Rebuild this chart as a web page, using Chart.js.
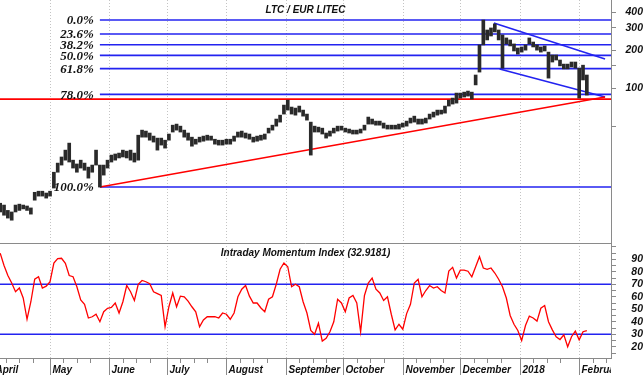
<!DOCTYPE html>
<html>
<head>
<meta charset="utf-8">
<script src="https://cdn.jsdelivr.net/npm/chart.js@4.4.1/dist/chart.umd.min.js"></script>
<style>
  html, body { margin: 0; padding: 0; background: #fff; }
  #wrap { width: 643px; height: 376px; }
</style>
</head>
<body>
<div id="wrap"><canvas id="ltcChart" width="643" height="376"></canvas></div>
<script>
// x values are day numbers counted from 1 April 2017 (day 0)
const monthNames = ["April", "May", "June", "July", "August", "September", "October", "November", "December", "2018", "February"];
const monthDays = [0, 30, 61, 91, 122, 153, 183, 214, 244, 275, 306];
const firstDay = 4, dayStep = 2;   // one bar every two days
const dayMin = 3.9, dayMax = 322.6;

// LTC/EUR bars, high and low
const highs = [12.2,11.8,10.7,10.4,11.8,12.0,11.8,11.6,11.2,14.9,
  15.2,15.2,14.7,15.2,21.5,25.4,28.4,32.2,36.6,26.8,
  25.0,26.8,25.4,23.6,24.5,32.2,24.5,24.5,26.8,29.4,
  30.0,30.5,32.2,31.6,32.2,30.5,42.3,46.4,45.6,44.0,
  41.6,40.1,40.1,38.6,43.2,50.8,51.8,49.9,46.4,44.0,
  40.8,39.3,40.8,41.6,42.3,41.6,39.3,38.6,38.6,39.3,
  39.3,41.6,44.8,45.6,44.0,43.2,40.8,41.6,42.3,43.2,
  48.1,50.8,56.8,61.0,73.3,80.3,70.7,69.4,72.0,66.9,
  62.2,53.7,49.9,49.0,48.1,44.0,45.6,48.1,49.9,49.9,
  48.1,47.3,46.4,46.4,47.3,50.8,58.9,56.8,54.7,54.7,
  52.8,50.8,50.8,50.8,51.8,52.8,54.7,57.8,59.9,56.8,
  56.8,57.8,62.2,64.5,66.9,66.9,72.0,80.3,83.3,91.3,
  91.3,92.9,94.7,92.9,127,220,347,289,300,323,
  289,264,250,241,224,208,212,220,250,232,
  220,212,216,193,183,183,167,155,155,161,
  161,144,152,127];
const lows = [10.4,9.8,9.3,8.95,10.4,10.7,11.0,10.7,10.0,12.9,
  13.9,13.9,13.4,13.9,16.1,21.5,24.5,26.8,25.9,23.2,
  21.5,23.2,22.3,19.3,21.5,24.5,16.4,20.4,23.2,25.9,
  26.8,27.9,28.4,27.9,26.8,25.9,26.8,40.8,40.8,38.6,
  37.3,32.2,35.3,33.4,38.6,44.8,46.4,44.8,40.8,38.6,
  34.6,35.9,37.3,37.9,38.6,38.6,35.9,35.3,35.3,35.9,
  35.9,37.9,40.8,40.8,40.1,39.3,37.3,37.9,38.6,39.3,
  44.0,46.4,49.9,53.7,62.2,66.9,62.2,61.0,64.5,59.9,
  55.7,29.4,44.8,44.8,43.2,40.1,41.6,44.0,45.6,46.4,
  44.8,44.0,43.2,43.2,44.0,46.4,51.8,51.8,50.8,50.8,
  48.1,47.3,47.3,47.3,47.3,49.0,49.9,52.8,53.7,51.8,
  51.8,52.8,56.8,58.9,61.0,62.2,63.3,72.0,74.7,76.0,
  83.3,84.9,86.4,81.8,106,134,220,241,259,279,
  241,144,224,216,197,186,193,200,224,212,
  200,193,197,120,161,167,150,142,142,147,
  144,83.3,116,88];

// Intraday Momentum Index
const imi = [94.8,85,77,71,64,67,59,42,56,74,
  76,67,68.5,72,87,90.5,90.8,86.8,77,76,
  68,57.5,54,43,44,46,40,48,50.8,51.5,
  55,47,56,69,64,57,70,73,72,70.5,
  64,62.5,61,36,52,63,52,60.5,60,56.5,
  52,48,36,41.5,44,44,44,43,47,46,
  42,47,60,66,69,60.5,55,55,51,48,
  58,60,70,82,87,84,68,70,68,56,
  47,33,30,38.8,24.5,26.8,32,40,58,55,
  48,59,61,55,32,61,71,75,66,63,
  57,60,46,33.5,38,34,46.5,54,71,74,
  60,65,69,67,68,65,63,80.5,83.5,75,
  81.3,81.3,80.4,76,84,92,83,82,83,79,
  74,68,59,45,38,33,25,37,44.5,43,
  40.5,50.8,53,40,33.5,28,25.8,29.5,20,28,
  32.5,25.5,32,32.9181];

const priceTicks = [400, 300, 200, 150, 100, 50];
const priceLabels = [400, 300, 200, 100];
const imiTicks = [100, 95, 90, 85, 80, 75, 70, 65, 60, 55, 50, 45, 40, 35, 30, 25, 20, 15];
const imiLabels = [90, 80, 70, 60, 50, 40, 30, 20];
const imiBands = [70, 30];

const fibRatios = [0, 0.236, 0.382, 0.5, 0.618, 0.78, 1];
const fibHigh = 347, fibLow = 16.4, fibStartDay = 56;
const supportLevel = 81.8;
const trendLine = [[56, 16.4], [319.5, 84.9]];
const channelTop = [[261.5, 329], [319.5, 170]];
const channelBottom = [[264.5, 142], [319.5, 84.9]];

const BLUE = "#2323f0", RED = "#ff0000";
const axisFont = { family: "Liberation Sans", size: 10.5, weight: "bold", style: "italic" };

function seg(points, color, axis) {
  return {
    type: "line",
    data: points.map(p => ({ x: p[0], y: p[1] })),
    borderColor: color,
    borderWidth: 1.6,
    pointRadius: 0,
    yAxisID: axis || "yP",
  };
}

const fibLevels = fibRatios.map(r => fibHigh - r * (fibHigh - fibLow));

const datasets = [
  {
    type: "bar",
    data: highs.map((h, i) => ({ x: firstDay + dayStep * i, y: [lows[i], h] })),
    backgroundColor: "#2a2a2a",
    barThickness: 3,
    borderWidth: 0,
    yAxisID: "yP",
  },
  {
    type: "line",
    data: imi.map((v, i) => ({ x: firstDay + dayStep * i, y: v })),
    borderColor: RED,
    borderWidth: 1.3,
    pointRadius: 0,
    yAxisID: "yM",
  },
  seg([[dayMin, supportLevel], [dayMax, supportLevel]], RED),
  seg(trendLine, RED),
  seg(channelTop, BLUE),
  seg(channelBottom, BLUE),
];
fibLevels.forEach(v => datasets.push(seg([[fibStartDay, v], [dayMax, v]], BLUE)));
imiBands.forEach(v => datasets.push(seg([[dayMin, v], [dayMax, v]], BLUE, "yM")));

const decor = {
  id: "decor",
  beforeDatasetsDraw(chart) {
    const ctx = chart.ctx, x = chart.scales.x, area = chart.chartArea;
    ctx.save();
    ctx.strokeStyle = "#c4c4c4";
    ctx.lineWidth = 1;
    ctx.setLineDash([1, 2]);
    monthDays.forEach(d => {
      if (d < dayMin) return;
      const px = Math.round(x.getPixelForValue(d)) + 0.5;
      ctx.beginPath();
      ctx.moveTo(px, area.top);
      ctx.lineTo(px, area.bottom);
      ctx.stroke();
    });
    ctx.restore();
  },
  afterDraw(chart) {
    const ctx = chart.ctx, x = chart.scales.x, yP = chart.scales.yP, yM = chart.scales.yM;
    const area = chart.chartArea;
    ctx.save();
    // divider between the panels
    ctx.strokeStyle = "#8a8a8a";
    ctx.lineWidth = 1;
    ctx.beginPath();
    ctx.moveTo(0, Math.round(yP.bottom) + 0.5);
    ctx.lineTo(area.right, Math.round(yP.bottom) + 0.5);
    ctx.stroke();

    // month ticks and labels
    ctx.save();
    ctx.beginPath();
    ctx.rect(0, area.bottom, area.right, 30);
    ctx.clip();
    ctx.font = "italic bold 10px 'Liberation Sans'";
    ctx.fillStyle = "#111";
    ctx.textAlign = "left";
    ctx.textBaseline = "middle";
    monthDays.forEach((d, i) => {
      const px = Math.round(x.getPixelForValue(d)) + 0.5;
      ctx.beginPath();
      ctx.moveTo(px, area.bottom);
      ctx.lineTo(px, area.bottom + 17);
      [7, 14, 21].forEach(k => {
        const qx = Math.round(x.getPixelForValue(d + k)) + 0.5;
        ctx.moveTo(qx, area.bottom);
        ctx.lineTo(qx, area.bottom + 5);
      });
      ctx.stroke();
      ctx.fillText(monthNames[i], px + 2, area.bottom + 12);
    });
    ctx.restore();

    // fibonacci labels
    ctx.font = "italic bold 13px 'Liberation Serif'";
    ctx.fillStyle = "#111";
    ctx.textAlign = "right";
    ctx.textBaseline = "middle";
    const lx = x.getPixelForValue(fibStartDay) - 6;
    fibRatios.forEach((r, i) => {
      ctx.fillText((r * 100).toFixed(1) + "%", lx, yP.getPixelForValue(fibLevels[i]) + 1);
    });

    // panel titles
    ctx.font = "italic bold 10px 'Liberation Sans'";
    ctx.textAlign = "center";
    const cx = (area.left + area.right) / 2;
    ctx.fillText("LTC / EUR LITEC", cx, yP.top + 10);
    ctx.fillText("Intraday Momentum Index (32.9181)", cx, yM.top + 10);
    ctx.restore();
  },
};

function fixWidth(s) {
  s.width = 32;
  s.paddingTop = 0;
  s.paddingBottom = 0;
}

new Chart(document.getElementById("ltcChart"), {
  type: "line",
  data: { datasets: datasets },
  options: {
    responsive: false,
    animation: false,
    devicePixelRatio: 1,
    events: [],
    layout: { padding: 0 },
    plugins: { legend: { display: false }, tooltip: { enabled: false } },
    scales: {
      x: {
        type: "linear",
        min: dayMin,
        max: dayMax,
        offset: false,
        grid: { display: false },
        border: { display: true, color: "#8a8a8a" },
        ticks: { display: false },
        afterFit(s) { s.height = 18; s.paddingLeft = 0; s.paddingRight = 0; },
      },
      yP: {
        type: "logarithmic",
        position: "right",
        stack: "panels",
        stackWeight: 243,
        min: 5.9,
        max: 500,
        afterBuildTicks(s) { s.ticks = priceTicks.map(v => ({ value: v })); },
        ticks: {
          font: axisFont,
          color: "#111",
          crossAlign: "far",
          padding: 6,
          autoSkip: false,
          callback: v => (priceLabels.includes(v) ? String(v) : ""),
        },
        grid: { drawOnChartArea: false, tickLength: 5, color: "#8a8a8a" },
        border: { color: "#8a8a8a" },
        afterFit: fixWidth,
      },
      yM: {
        type: "linear",
        position: "right",
        stack: "panels",
        stackWeight: 115,
        min: 11,
        max: 103,
        afterBuildTicks(s) { s.ticks = imiTicks.map(v => ({ value: v })); },
        ticks: {
          font: axisFont,
          color: "#111",
          crossAlign: "far",
          padding: 11,
          autoSkip: false,
          callback: v => (imiLabels.includes(v) ? String(v) : ""),
        },
        grid: { drawOnChartArea: false, tickLength: 5, color: "#8a8a8a" },
        border: { color: "#8a8a8a" },
        afterFit: fixWidth,
      },
    },
  },
  plugins: [decor],
});
</script>
</body>
</html>
